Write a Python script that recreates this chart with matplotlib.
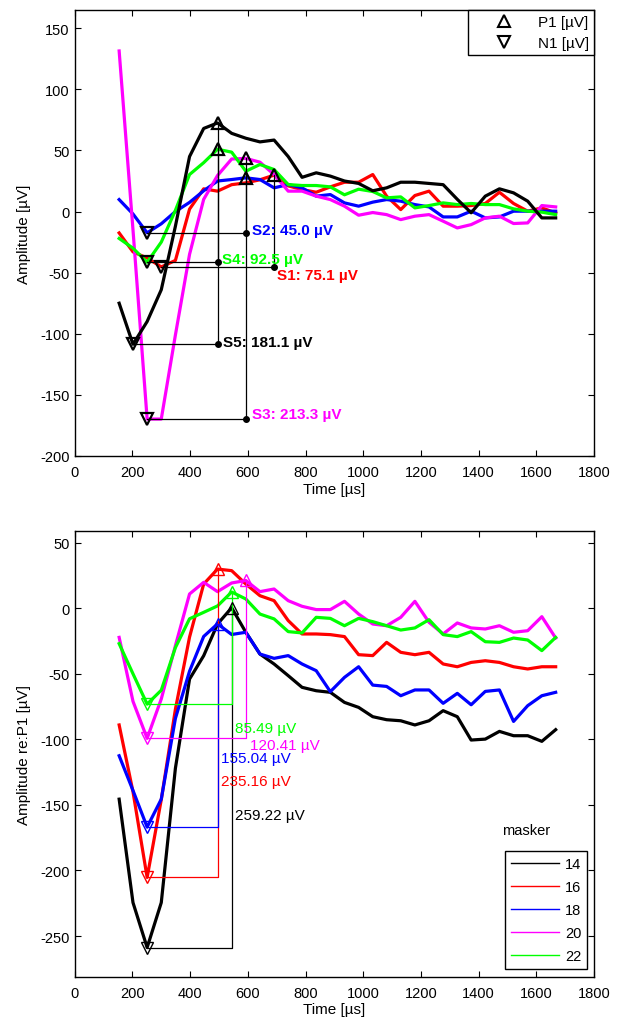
import matplotlib
matplotlib.use('Agg')
import matplotlib.pyplot as plt
from matplotlib.lines import Line2D

plt.rcParams['font.family'] = ['Liberation Sans', 'DejaVu Sans']
plt.rcParams['axes.unicode_minus'] = False

# sample times (µs)
time_us = [154, 202, 251, 300, 349, 398, 447, 495, 544, 593, 642, 691, 740, 788,
           837, 886, 935, 984, 1033, 1081, 1130, 1179, 1228, 1277, 1326, 1374,
           1423, 1472, 1521, 1570, 1619, 1667]

# ---- top panel: responses S1..S5 ----
s1_red = [-17.5, -33, -38, -45.3, -40, 2, 18.6, 16.7, 22, 23.5, 26, 29.8, 21, 18,
          15.8, 20.2, 24, 24, 30.3, 12.6, 1.6, 13.1, 16.7, 4.4, 4.4, 4.9, 6.6, 15.8,
          6.6, 0.3, 3, -1.1]
s2_blue = [9.8, -2, -17.4, -10, 0, 7.5, 17, 25, 26.2, 27.6, 26.2, 19.4, 22.1, 19.4,
           12.6, 13.9, 7.1, 4.4, 7.7, 9.8, 8.5, 5.7, 3.8, -4.4, -4.4, 0.3, -5.2, -4.4,
           0.3, 0.3, 0.3, 0.3]
s3_magenta = [131.4, -15, -169.8, -169.8, -101, -35, 10, 29.5, 43, 43.5, 40.4, 30.3,
              16.7, 16.7, 12.6, 9.8, 4.4, -3, -0.8, -2.5, -6.6, -3.8, -2.5, -7.9,
              -13.4, -10.7, -5.2, -3.8, -9.8, -9.3, 4.9, 3.8]
s4_green = [-22, -30, -41.5, -25, 1, 30.3, 40, 51, 48.6, 33, 38.5, 34.4, 22.1, 21.3,
            21.3, 20.2, 13.7, 18.3, 16.4, 11.2, 12, 3, 4.9, 7.1, 5.7, 6.6, 5.7, 5.7,
            2.2, 0.3, -0.5, -2.5]
s5_black = [-75, -108.6, -90, -64, -12, 45, 68, 72.5, 64, 60, 57, 58.5, 45, 28, 31.7,
            29, 25, 23, 17, 19.4, 24, 24, 23, 22, 10, -1, 12.6, 18.6, 15.3, 8.5, -5.2,
            -5.2]

top_series = [s1_red, s2_blue, s3_magenta, s4_green, s5_black]
top_colors = ['#ff0000', '#0000ff', '#ff00ff', '#00ff00', '#000000']
top_n1_idx = [3, 2, 2, 2, 1]
top_p1_idx = [11, 9, 9, 7, 7]
top_labels = ['S1: 75.1 µV', 'S2: 45.0 µV', 'S3: 213.3 µV', 'S4: 92.5 µV', 'S5: 181.1 µV']
top_label_dx = [10, 20, 20, 15, 20]
top_label_dy = [-6.5, 2.6, 3.8, 2.5, 1.6]

# ---- bottom panel: masker levels ----
masker = ['14', '16', '18', '20', '22']
m14_black = [-145.6, -224.5, -258.8, -224.5, -122, -54, -36.2, -12, 0.4, -18.3, -34.9,
             -42.5, -51.4, -60.3, -62.9, -64.1, -71.8, -75.6, -82.7, -85, -85.8, -89,
             -85.8, -78.1, -82.7, -100.5, -99.8, -93.9, -97.2, -97.2, -101.5, -92.6]
m16_red = [-89, -140, -205.3, -146, -77, -22, 18.5, 29.9, 28.7, 18.5, 9.6, 5.8, -9.4,
           -19.6, -19.6, -20.1, -21.6, -35.4, -36.1, -26, -33.6, -35.4, -33.6, -42.5,
           -44.6, -41.3, -40, -41.3, -44.6, -46.3, -44.6, -44.6]
m18_blue = [-112.5, -139, -166.9, -145.6, -84, -48, -21.5, -11.9, -20, -18.3, -34.9,
            -38.2, -36.1, -42.5, -47.6, -63.6, -52.7, -44.6, -58.6, -59.6, -66.7, -62.3,
            -62.3, -72.5, -64.9, -73.6, -63.4, -62.3, -86.3, -74.3, -66.7, -64.1]
m20_magenta = [-22.2, -71, -99.2, -69.2, -28.5, 10.9, 19.8, 12.7, 19.3, 21.2, 12.7,
               14.7, 5.8, 1.5, -1, -1, 5.3, -4.4, -12, -13.3, -6.9, 5.3, -10.7, -19.6,
               -11.2, -15, -15.8, -13.3, -18.3, -17.1, -6.4, -22.7]
m22_green = [-27, -50, -73.1, -62.5, -30, -8, -3.1, 1.8, 12.4, 7.1, -4.4, -8.1, -17.8,
             -18.8, -6.9, -7.7, -13.3, -7.7, -10.2, -13.3, -16.6, -15, -8.7, -20.1,
             -21.6, -17.8, -25.5, -26, -22.7, -24.2, -32.3, -22.2]

bot_series = [m14_black, m16_red, m18_blue, m20_magenta, m22_green]
bot_colors = ['#000000', '#ff0000', '#0000ff', '#ff00ff', '#00ff00']
bot_n1_idx = [2, 2, 2, 2, 2]
bot_p1_idx = [8, 7, 7, 9, 8]
bot_labels = ['259.22 µV', '235.16 µV', '155.04 µV', '120.41 µV', '85.49 µV']
bot_label_y = [-158, -132, -114, -104, -91]


def style_axes(ax):
    ax.set_xlim(0, 1800)
    ax.set_xticks(range(0, 1801, 200))
    ax.tick_params(direction='in', top=True, right=True, length=4, width=0.8,
                   labelsize=10.5)
    ax.tick_params(axis='x', pad=6.5)
    ax.tick_params(axis='y', pad=3.5)
    for sp in ax.spines.values():
        sp.set_linewidth(1.0)
    ax.set_xlabel('Time [µs]', fontsize=11, labelpad=2)


fig = plt.figure(figsize=(6.19, 10.2), dpi=100)

# top panel
ax1 = fig.add_axes([0.1207, 0.552, 0.839, 0.4373])
for ys, c in zip(top_series, top_colors):
    ax1.plot(time_us, ys, color=c, lw=2.3, zorder=2)
for ys, c, n, p, lab, dx, dy in zip(top_series, top_colors, top_n1_idx, top_p1_idx,
                                    top_labels, top_label_dx, top_label_dy):
    tn, vn = time_us[n], ys[n]
    tp, vp = time_us[p], ys[p]
    ax1.plot([tn, tp, tp], [vn, vn, vp], color='k', lw=0.9, zorder=3)
    ax1.plot(tp, vn, 'o', color='k', ms=4, zorder=4)
    ax1.plot(tn, vn, 'v', mfc='none', mec='k', mew=1.6, ms=9, zorder=5)
    ax1.plot(tp, vp, '^', mfc='none', mec='k', mew=1.6, ms=9, zorder=5)
    ax1.text(tp + dx, vn + dy, lab, color=c, fontsize=11, fontweight='bold',
             va='center', ha='left', zorder=6)
style_axes(ax1)
ax1.set_ylim(-200, 165)
ax1.set_yticks(range(-200, 151, 50))
ax1.set_ylabel('Amplitude [µV]', fontsize=11, labelpad=7)
h_p1 = Line2D([], [], marker='^', ls='none', mfc='none', mec='k', mew=1.5, ms=9)
h_n1 = Line2D([], [], marker='v', ls='none', mfc='none', mec='k', mew=1.5, ms=9)
leg1 = ax1.legend([h_p1, h_n1], ['P1 [µV]', 'N1 [µV]'], loc='upper right',
                  borderaxespad=0, fancybox=False, edgecolor='k', framealpha=1,
                  fontsize=11, handlelength=4.05, handletextpad=0.15,
                  borderpad=0.35, labelspacing=0.45)
leg1.get_frame().set_linewidth(1.0)

# bottom panel
ax2 = fig.add_axes([0.1207, 0.0415, 0.839, 0.437])
for ys, c in zip(bot_series, bot_colors):
    ax2.plot(time_us, ys, color=c, lw=2.3, zorder=2)
for ys, c, n, p, lab, ly in zip(bot_series, bot_colors, bot_n1_idx, bot_p1_idx,
                                bot_labels, bot_label_y):
    tn, vn = time_us[n], ys[n]
    tp, vp = time_us[p], ys[p]
    ax2.plot([tn, tp, tp], [vn, vn, vp], color=c, lw=0.9, zorder=3)
    ax2.plot(tn, vn, 'v', mfc='none', mec=c, mew=1.0, ms=9, zorder=4)
    ax2.plot(tp, vp, '^', mfc='none', mec=c, mew=1.0, ms=9, zorder=4)
    ax2.text(tp + 13, ly, lab, color=c, fontsize=11, va='center', ha='left', zorder=6)
style_axes(ax2)
ax2.set_ylim(-281, 59)
ax2.set_yticks(range(-250, 51, 50))
ax2.set_ylabel('Amplitude re:P1 [µV]', fontsize=11, labelpad=7)
leg_handles = [Line2D([], [], color=c, lw=1.0) for c in bot_colors]
leg2 = ax2.legend(leg_handles, masker, loc='lower right',
                  bbox_to_anchor=(0.9865, 0.017), borderaxespad=0, fancybox=False,
                  edgecolor='k', framealpha=1, fontsize=10.5, handlelength=3.3,
                  handletextpad=0.4, labelspacing=0.62, borderpad=0.4)
leg2.get_frame().set_linewidth(1.0)
ax2.text(0.869, 0.33, 'masker', transform=ax2.transAxes, ha='center', va='center',
         fontsize=10.5)

fig.savefig('out.png', dpi=100)
